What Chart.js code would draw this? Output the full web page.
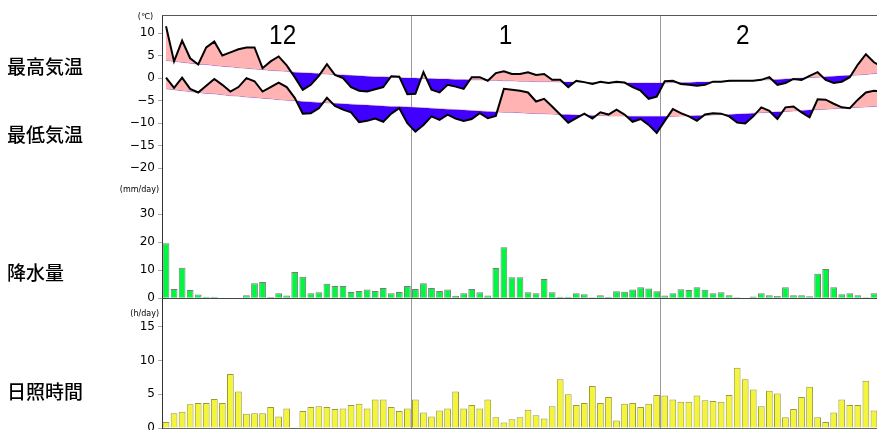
<!DOCTYPE html>
<html>
<head>
<meta charset="utf-8">
<script src="https://cdn.jsdelivr.net/npm/chart.js@4/dist/chart.umd.min.js"></script>
<style>
  html, body { margin: 0; padding: 0; background: #fff; overflow: hidden; }
  #wrap { width: 886px; height: 430px; }
  canvas { display: block; }
</style>
</head>
<body>
<div id="wrap"><canvas id="c" width="886" height="430"></canvas></div>
<script>
// ---- categories: Dec 1 .. Feb 28 ----
const months = [12, 1, 2];
const monthDays = [31, 31, 28];
const monthLabels = ['12', '1', '2'];
const labels = [];
months.forEach((m, k) => { for (let d = 1; d <= monthDays[k]; d++) labels.push(m + '/' + d); });

// ---- daily maximum temperature (°C) ----
const maxTemp = [
  11.5, 3.7, 8.3, 4.4, 3.0, 6.8, 8.1, 5.0, 5.7, 6.4, 6.8, 6.8, 2.2, 3.7, 4.8, 2.8, 0.2, -2.6, -1.5, 0.5, 3.1, 0.7, 0.0, -2.0, -2.8, -3.0, -2.5, -2.0, 0.4, 0.3, -3.6,
  -3.5, 1.3, -2.6, -3.2, -1.5, -1.9, -2.4, 0.2, 0.2, -0.6, 1.1, 1.5, 0.9, 0.9, 1.3, 0.7, 0.9, -0.4, -0.4, -2.0, -0.6, -0.9, -1.3, -0.8, -1.1, -0.8, -1.0, -2.0, -2.8, -4.6, -4.1,
  -0.7, -0.6, -1.3, -1.5, -1.7, -1.5, -0.8, -0.8, -0.6, -0.6, -0.6, -0.6, -0.4, 0.2, -1.5, -1.1, -0.2, -0.4, 0.5, 1.3, -0.4, -1.1, -0.8, 0.2, 3.0, 5.3, 3.5, 2.5
];
// ---- normal of daily maximum (°C) ----
const maxNormal = [
  3.9, 3.7, 3.5, 3.3, 3.1, 3.0, 2.8, 2.6, 2.5, 2.3, 2.2, 2.0, 1.9, 1.7, 1.6, 1.5, 1.3, 1.2, 1.1, 1.0, 0.9, 0.8, 0.7, 0.6, 0.5, 0.4, 0.3, 0.3, 0.2, 0.1, 0.0,
  0.0, -0.1, -0.1, -0.2, -0.2, -0.3, -0.3, -0.4, -0.4, -0.5, -0.5, -0.6, -0.6, -0.7, -0.7, -0.8, -0.8, -0.8, -0.9, -0.9, -0.9, -1.0, -1.0, -1.0, -1.0, -1.1, -1.1, -1.1, -1.1, -1.1, -1.1,
  -1.1, -1.0, -1.0, -1.0, -0.9, -0.9, -0.8, -0.8, -0.7, -0.6, -0.6, -0.5, -0.4, -0.4, -0.3, -0.2, -0.1, 0.0, 0.1, 0.2, 0.3, 0.4, 0.5, 0.6, 0.7, 0.8, 1.0, 1.1
];
// ---- daily minimum temperature (°C) ----
const minTemp = [
  0.1, -2.2, 0.1, -2.4, -3.2, -1.7, -0.2, -1.5, -3.0, -2.0, 0.0, -0.7, -3.0, -2.0, -1.0, -2.0, -4.4, -7.9, -7.8, -6.7, -4.4, -6.2, -7.0, -7.6, -9.8, -9.5, -9.0, -9.7, -7.9, -6.7, -10.0,
  -11.9, -10.4, -8.5, -9.3, -8.1, -9.0, -9.5, -9.1, -7.8, -8.9, -8.4, -2.4, -2.6, -2.8, -3.2, -5.2, -4.6, -6.3, -8.1, -9.9, -8.9, -7.9, -9.0, -7.6, -8.1, -7.0, -8.1, -9.7, -9.1, -10.4, -12.2,
  -9.5, -6.9, -7.8, -8.5, -9.5, -8.1, -7.8, -7.9, -8.5, -9.9, -10.1, -8.5, -6.5, -7.3, -9.1, -6.5, -6.3, -7.6, -8.7, -4.7, -4.8, -5.7, -6.5, -6.7, -4.8, -3.2, -2.8, -3.0
];
// ---- normal of daily minimum (°C) ----
const minNormal = [
  -2.4, -2.6, -2.8, -3.0, -3.2, -3.4, -3.5, -3.7, -3.9, -4.0, -4.2, -4.3, -4.5, -4.6, -4.8, -4.9, -5.0, -5.2, -5.3, -5.4, -5.5, -5.6, -5.7, -5.8, -5.9, -6.0, -6.1, -6.2, -6.3, -6.3, -6.4,
  -6.5, -6.6, -6.7, -6.8, -6.9, -7.0, -7.1, -7.2, -7.3, -7.4, -7.5, -7.6, -7.6, -7.7, -7.8, -7.9, -7.9, -8.0, -8.1, -8.1, -8.2, -8.2, -8.3, -8.3, -8.4, -8.4, -8.4, -8.5, -8.5, -8.5, -8.5,
  -8.5, -8.5, -8.4, -8.4, -8.3, -8.3, -8.2, -8.1, -8.1, -8.0, -7.9, -7.8, -7.7, -7.6, -7.5, -7.4, -7.3, -7.2, -7.1, -7.0, -6.9, -6.8, -6.7, -6.6, -6.5, -6.4, -6.3, -6.2
];
// ---- precipitation (mm/day) ----
const precip = [
  19.6, 3.3, 10.9, 2.9, 1.3, 0.5, 0.5, 0, 0, 0, 1.1, 5.3, 5.8, 0.4, 1.8, 1.0, 9.4, 7.7, 1.8, 2.1, 5.2, 4.4, 4.4, 2.2, 2.6, 3.1, 2.6, 3.6, 1.8, 2.2, 4.4,
  3.3, 5.3, 3.6, 2.6, 3.1, 0.8, 1.8, 3.3, 2.1, 1.0, 10.8, 18.2, 7.5, 7.5, 2.1, 1.8, 6.9, 2.1, 0.5, 0.5, 1.8, 1.4, 0.3, 1.1, 0.4, 2.5, 2.3, 3.1, 3.9, 3.5, 2.5,
  1.0, 1.8, 3.2, 2.9, 3.9, 3.0, 1.8, 2.1, 1.1, 0.3, 0.2, 0.6, 1.8, 1.1, 0.8, 3.9, 1.1, 1.1, 0.7, 8.7, 10.4, 3.9, 1.4, 1.8, 1.1, 0.3, 1.8, 1.0
];
// ---- sunshine duration (h/day) ----
const sunshine = [
  0.9, 2.2, 2.4, 3.5, 3.7, 3.7, 4.3, 3.7, 8.0, 5.4, 2.1, 2.2, 2.2, 3.1, 1.7, 2.9, 0.1, 2.5, 3.1, 3.2, 3.1, 2.8, 2.9, 3.4, 3.6, 2.9, 4.2, 4.2, 3.1, 2.5, 2.9,
  4.2, 2.3, 1.7, 2.6, 2.9, 5.4, 2.9, 3.4, 2.9, 4.2, 1.6, 0.8, 1.3, 1.6, 2.7, 1.9, 1.4, 3.2, 7.2, 5.0, 3.4, 3.7, 6.2, 3.7, 4.6, 1.1, 3.6, 3.7, 3.1, 3.6, 4.9,
  4.8, 4.2, 3.9, 3.9, 4.8, 4.1, 4.0, 3.9, 4.9, 8.9, 7.2, 5.7, 3.2, 5.5, 5.1, 1.6, 2.8, 4.6, 6.1, 1.6, 0.9, 2.3, 4.2, 3.4, 3.4, 7.0, 2.6, 3.0
];
// ---- axis tick values ----
const tempTicks = [10, 5, 0, -5, -10, -15, -20];
const precipTicks = [0, 10, 20, 30];
const sunTicks = [0, 5, 10, 15];
const rowTitles = ['最高気温', '最低気温', '降水量', '日照時間'];

// month boundaries (category index where a month starts)
const monthStarts = [31, 62];

const PINK = '#ffb3b3';
const BLUE = '#4000ff';
const minus = v => String(v).replace('-', '\u2212');

const fixedWidth = (scale) => { scale.width = 162; scale.paddingTop = 0; scale.paddingBottom = 0; };

const textPlugin = {
  id: 'texts',
  afterDraw(chart) {
    const { ctx, scales, chartArea } = chart;
    const x = scales.x, yT = scales.yT, yP = scales.yP, yS = scales.yS;
    ctx.save();
    // top frame line
    ctx.strokeStyle = '#555';
    ctx.lineWidth = 1;
    ctx.beginPath();
    ctx.moveTo(chartArea.left, chartArea.top + 0.5);
    ctx.lineTo(chartArea.right, chartArea.top + 0.5);
    ctx.stroke();

    ctx.fillStyle = '#000';
    ctx.textBaseline = 'middle';
    // row titles
    ctx.textAlign = 'left';
    ctx.font = '500 19px "Noto Sans CJK JP"';
    const anchors = [yT.getPixelForValue(2.5), yT.getPixelForValue(-12.6), yP.getPixelForValue(9), yS.getPixelForValue(5.3)];
    rowTitles.forEach((t, i) => ctx.fillText(t, 7, anchors[i]));
    // unit labels
    ctx.textAlign = 'right';
    ctx.font = '8px "DejaVu Sans"';
    ctx.fillText('(\u2103)', 153, yT.getPixelForValue(13.6));
    ctx.fillText('(mm/day)', 159, yP.getPixelForValue(38.6));
    ctx.fillText('(h/day)', 159, yS.getPixelForValue(16.9));
    // month labels
    ctx.textAlign = 'center';
    ctx.font = '28px "Liberation Sans"';
    const monthPos = [14.5, 42.2, 71.7];
    monthLabels.forEach((m, i) => {
      ctx.save();
      ctx.translate(x.getPixelForValue(monthPos[i]), yT.getPixelForValue(9.2));
      ctx.scale(0.87, 1);
      ctx.fillText(m, 0, 0);
      ctx.restore();
    });
    ctx.restore();
  }
};

Chart.defaults.font.family = '"DejaVu Sans"';
Chart.defaults.color = '#000';

new Chart(document.getElementById('c'), {
  type: 'bar',
  data: {
    labels: labels,
    datasets: [
      { type: 'line', data: maxTemp, yAxisID: 'yT', borderColor: '#000', borderWidth: 2, pointRadius: 0, tension: 0,
        fill: { target: 1, above: PINK, below: BLUE } },
      { type: 'line', data: maxNormal, yAxisID: 'yT', borderColor: 'rgba(200,140,140,0.6)', borderWidth: 1, pointRadius: 0, fill: false },
      { type: 'line', data: minTemp, yAxisID: 'yT', borderColor: '#000', borderWidth: 2, pointRadius: 0, tension: 0,
        fill: { target: 3, above: PINK, below: BLUE } },
      { type: 'line', data: minNormal, yAxisID: 'yT', borderColor: 'rgba(200,140,140,0.6)', borderWidth: 1, pointRadius: 0, fill: false },
      { type: 'bar', data: precip, yAxisID: 'yP', grouped: false, backgroundColor: '#00f640', borderColor: '#7a7a7a', borderWidth: 1,
        borderSkipped: 'start', barPercentage: 0.84, categoryPercentage: 1.0 },
      { type: 'bar', data: sunshine, yAxisID: 'yS', grouped: false, backgroundColor: '#f4f438', borderColor: '#9a9a40', borderWidth: 1,
        borderSkipped: 'start', barPercentage: 0.84, categoryPercentage: 1.0 }
    ]
  },
  options: {
    responsive: false,
    animation: false,
    layout: { padding: { left: 0, right: 0, top: 15, bottom: 2 } },
    plugins: { legend: { display: false }, tooltip: { enabled: false }, title: { display: false } },
    scales: {
      x: {
        type: 'category', offset: true, position: 'bottom',
        ticks: { display: false },
        grid: { offset: true, drawTicks: false, lineWidth: 1,
          color: c => monthStarts.includes(c.index) ? '#999' : 'rgba(0,0,0,0)' },
        border: { display: true, color: '#666' }
      },
      yT: {
        type: 'linear', position: 'left', stack: 'v', stackWeight: 173.3, weight: 3,
        min: -24.5, max: 14,
        afterFit: fixedWidth,
        afterBuildTicks: s => { s.ticks = tempTicks.map(v => ({ value: v })); },
        ticks: { font: { size: 12 }, padding: 3, autoSkip: false, callback: minus },
        grid: { drawOnChartArea: false, tickLength: 4, color: '#aaa' },
        border: { color: '#333' }
      },
      yP: {
        type: 'linear', position: 'left', stack: 'v', stackWeight: 109.7, weight: 2,
        min: 0, max: 39.2,
        afterFit: fixedWidth,
        afterBuildTicks: s => { s.ticks = precipTicks.map(v => ({ value: v })); },
        ticks: { font: { size: 12 }, padding: 3, autoSkip: false, callback: minus },
        grid: { drawOnChartArea: true, tickLength: 4, tickColor: '#aaa',
          color: c => (c.tick && c.tick.value === 0) ? '#444' : 'rgba(0,0,0,0)' },
        border: { color: '#333' }
      },
      yS: {
        type: 'linear', position: 'left', stack: 'v', stackWeight: 129.7, weight: 1,
        min: 0, max: 19.2,
        afterFit: fixedWidth,
        afterBuildTicks: s => { s.ticks = sunTicks.map(v => ({ value: v })); },
        ticks: { font: { size: 12 }, padding: 3, autoSkip: false, callback: minus },
        grid: { drawOnChartArea: false, tickLength: 4, color: '#aaa' },
        border: { color: '#333' }
      }
    }
  },
  plugins: [textPlugin]
});
</script>
</body>
</html>
